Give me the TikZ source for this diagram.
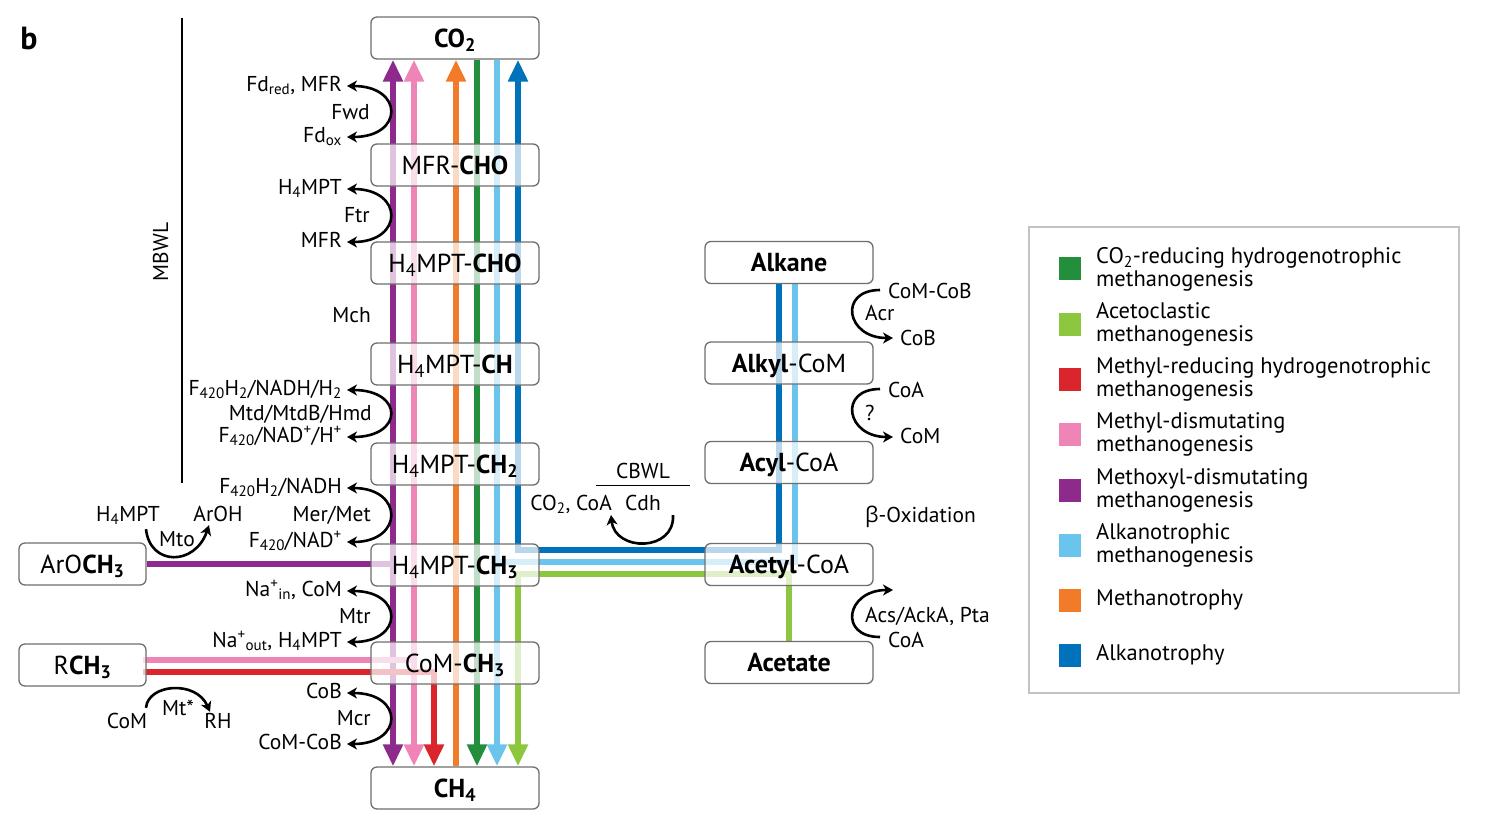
\documentclass[tikz,border=0pt]{standalone}
\usepackage{fontspec}
\setmainfont{PT Sans}
\newfontfamily\grk{Open Sans}
\usetikzlibrary{arrows.meta,calc}
\pgfdeclarelayer{bg}
\pgfsetlayers{bg,main}
\definecolor{cpurple}{RGB}{143,42,141}
\definecolor{cpink}{RGB}{239,133,183}
\definecolor{cred}{RGB}{218,37,45}
\definecolor{corange}{RGB}{242,123,41}
\definecolor{cgreen}{RGB}{35,142,60}
\definecolor{clgreen}{RGB}{141,198,63}
\definecolor{clblue}{RGB}{107,196,236}
\definecolor{cblue}{RGB}{0,114,187}
\definecolor{boxgray}{RGB}{110,110,110}
\definecolor{leggray}{RGB}{195,195,195}
\newcommand\bxfont{\fontsize{26}{30}\selectfont}
\newcommand\lbfont{\fontsize{21.5}{25}\selectfont}
\newcommand\lgfont{\fontsize{22.5}{23}\selectfont}
\tikzset{tp/.tip={Stealth[length=10pt,width=11pt,inset=3pt]}}
\begin{document}
\begin{tikzpicture}[x=1pt,y=-1pt,
  bx/.style={draw=boxgray, line width=1.3pt, rounded corners=6pt, fill=white,
    fill opacity=0.72, text opacity=1, minimum width=168pt, minimum height=42pt,
    inner sep=0pt, font=\bxfont, text height=21pt, text depth=3pt},
  sbx/.style={bx, minimum width=127pt},
  lbl/.style={font=\lbfont, inner sep=0pt, text height=14pt, text depth=4pt},
  pl/.style={line width=6.5pt, line join=miter},
  ar/.style={-{Triangle[width=19pt,length=22pt]}},
  carrow/.style={line width=2.6pt, black},
  sq/.style={minimum width=22pt, minimum height=23pt, inner sep=0pt},
  lg/.style={font=\lgfont, inner sep=0pt, align=left, anchor=west}
]
\useasboundingbox (0,0) rectangle (1487,822);

% panel label
\node[font=\fontsize{32}{34}\selectfont\bfseries, inner sep=0pt] (blab) at (29,38) {b};

% central column boxes
\node[bx] (co2)    at (455,38)  {\textbf{CO\textsubscript{2}}};
\node[bx] (mfr)    at (455,165) {MFR-\textbf{CHO}};
\node[bx] (cho)    at (455,263) {H\textsubscript{4}MPT-\textbf{CHO}};
\node[bx] (ch)     at (455,364) {H\textsubscript{4}MPT-\textbf{CH}};
\node[bx] (ch2)    at (455,464) {H\textsubscript{4}MPT-\textbf{CH\textsubscript{2}}};
\node[bx] (ch3)    at (455,565) {H\textsubscript{4}MPT-\textbf{CH\textsubscript{3}}};
\node[bx] (comch3) at (455,663) {CoM-\textbf{CH\textsubscript{3}}};
\node[bx] (ch4)    at (455,788) {\textbf{CH\textsubscript{4}}};
\node[sbx] (aro)   at (82.5,564) {ArO\textbf{CH\textsubscript{3}}};
\node[sbx] (rch3)  at (82.5,665) {R\textbf{CH\textsubscript{3}}};
% right column boxes
\node[bx] (alkane)  at (789,262.5) {\textbf{Alkane}};
\node[bx] (alkyl)   at (789,363)   {\textbf{Alkyl}-CoM};
\node[bx] (acyl)    at (789,462.5) {\textbf{Acyl}-CoA};
\node[bx] (acetyl)  at (789,564.5) {\textbf{Acetyl}-CoA};
\node[bx] (acetate) at (789,662.5) {\textbf{Acetate}};

% MBWL
\node[lbl, rotate=90] (mbwl) at (163,252) {MBWL};
\coordinate (mbt) at (182,18);
\coordinate (mbb) at (182,483);
\draw[line width=1.4pt] (mbt) -- (mbb);

% left labels
\node[lbl, anchor=base east] (fdred) at (342,91) {Fd\textsubscript{red}, MFR};
\node[lbl, anchor=base east] (fwd) at (370,119) {Fwd};
\node[lbl, anchor=base east] (fdox) at (342,142) {Fd\textsubscript{ox}};
\node[lbl, anchor=base east] (h4a) at (342,194) {H\textsubscript{4}MPT};
\node[lbl, anchor=base east] (ftr) at (370,222) {Ftr};
\node[lbl, anchor=base east] (mfra) at (342,247) {MFR};
\node[lbl, anchor=base east] (mch) at (371,322) {Mch};
\node[lbl, anchor=base east] (fa) at (342,395) {F\textsubscript{420}H\textsubscript{2}/NADH/H\textsubscript{2}};
\node[lbl, anchor=base east] (mtd) at (372,420) {Mtd/MtdB/Hmd};
\node[lbl, anchor=base east] (fb) at (342,442) {F\textsubscript{420}/NAD\textsuperscript{+}/H\textsuperscript{+}};
\node[lbl, anchor=base east] (fc) at (342,493) {F\textsubscript{420}H\textsubscript{2}/NADH};
\node[lbl, anchor=base east] (mer) at (371,521) {Mer/Met};
\node[lbl, anchor=base east] (fd) at (342,547) {F\textsubscript{420}/NAD\textsuperscript{+}};
\node[lbl, anchor=base east] (nain) at (342,596) {Na\textsuperscript{+}\textsubscript{in}, CoM};
\node[lbl, anchor=base east] (mtr) at (371,623) {Mtr};
\node[lbl, anchor=base east] (naout) at (342,647) {Na\textsuperscript{+}\textsubscript{out}, H\textsubscript{4}MPT};
\node[lbl, anchor=base east] (cob) at (342,698) {CoB};
\node[lbl, anchor=base east] (mcr) at (371,725) {Mcr};
\node[lbl, anchor=base east] (comcob) at (342,749) {CoM-CoB};

% Mto / Mt*
\node[lbl, anchor=base] (h4m) at (128,521) {H\textsubscript{4}MPT};
\node[lbl, anchor=base] (aroh) at (218,521) {ArOH};
\node[lbl, anchor=base] (mto) at (177,546) {Mto};
\node[lbl, anchor=base] (com) at (127,728) {CoM};
\node[lbl, anchor=base] (mtstar) at (178,715) {Mt*};
\node[lbl, anchor=base] (rh) at (218,728) {RH};

% CBWL
\node[lbl, anchor=base] (cbwl) at (643,478) {CBWL};
\draw[line width=1.4pt] ([shift={(-47,3)}]cbwl.south) -- ([shift={(47,3)}]cbwl.south);
\node[lbl, anchor=base] (cdh) at (643,510) {Cdh};
\node[lbl, anchor=base east] (coco) at (612,510) {CO\textsubscript{2}, CoA};

% right labels
\node[lbl, anchor=base west] (comcobr) at (888,298) {CoM-CoB};
\node[lbl, anchor=base west] (acr) at (865,320) {Acr};
\node[lbl, anchor=base west] (cobr) at (900,345) {CoB};
\node[lbl, anchor=base west] (coaa) at (888,397) {CoA};
\node[lbl, anchor=base west] (qm) at (865,420) {?};
\node[lbl, anchor=base west] (comr) at (900,443) {CoM};
\node[lbl, anchor=base west] (boxi) at (865,522) {{\grk β}-Oxidation};
\node[lbl, anchor=base west] (acs) at (865,622) {Acs/AckA, Pta};
\node[lbl, anchor=base west] (coab) at (888,647) {CoA};
\coordinate (acsend) at (893,590);

% curved enzyme arrows
\draw[carrow, {tp}-{tp}] ([xshift=5pt]fdred.east) .. controls +(57,0) and +(57,0) .. ([xshift=5pt]fdox.east);
\draw[carrow, {tp}-{tp}] ([xshift=5pt]h4a.east) .. controls +(57,0) and +(57,0) .. ([xshift=5pt]mfra.east);
\draw[carrow, {tp}-{tp}] ([xshift=5pt]fa.east) .. controls +(57,0) and +(57,0) .. ([xshift=5pt]fb.east);
\draw[carrow, {tp}-{tp}] ([xshift=5pt]fc.east) .. controls +(57,0) and +(57,0) .. ([xshift=5pt]fd.east);
\draw[carrow, {tp}-{tp}] ([xshift=5pt]nain.east) .. controls +(57,0) and +(57,0) .. ([xshift=5pt]naout.east);
\draw[carrow, {tp}-{tp}] ([xshift=5pt]cob.east) .. controls +(57,0) and +(57,0) .. ([xshift=5pt]comcob.east);
\draw[carrow, -{tp}] ([shift={(18,4)}]h4m.south) .. controls +(4,37) and +(-14,41) .. ([shift={(-9,0)}]aroh.south);
\draw[carrow, -{tp}] ([shift={(19,-6)}]com.north) .. controls +(2,-24) and +(-14,-32) .. ([shift={(-8,-2)}]rh.north);
\draw[carrow, -{tp}] ([shift={(12,10)}]cdh.east) .. controls +(2,37) and +(4,37) .. ([shift={(-1,10)}]coco.east);
\draw[carrow, -{tp}] ([shift={(-8,-3)}]comcobr.west) .. controls +(-42,0) and +(-47,0) .. ([shift={(-7,-2)}]cobr.west);
\draw[carrow, -{tp}] ([shift={(-8,-3)}]coaa.west) .. controls +(-42,0) and +(-47,0) .. ([shift={(-7,-1)}]comr.west);
\draw[carrow, -{tp}] ([shift={(-8,-5)}]coab.west) .. controls +(-42,0) and +(-47,0) .. (acsend);

% pathway lines
\coordinate (jP) at (393,564);
\coordinate (jKa) at (143,660);
\coordinate (jK) at (414,660);
\coordinate (jRa) at (143,672);
\coordinate (jR) at (434,672);
\coordinate (jB1) at (779,550);
\coordinate (jB2) at (518,550);
\coordinate (jL1) at (795,562);
\coordinate (jL2) at (497,562);
\coordinate (jG1) at (789,574);
\coordinate (jG2) at (518,574);
\begin{pgfonlayer}{bg}
  % purple
  \draw[pl, cpurple] (aro.east) -- (jP);
  \draw[pl, cpurple, ar] (jP) -- ([xshift=-62pt]co2.south);
  \draw[pl, cpurple, ar] (jP) -- ([xshift=-62pt]ch4.north);
  % pink
  \draw[pl, cpink] (jKa) -- (jK);
  \draw[pl, cpink, ar] (jK) -- ([xshift=-41pt]co2.south);
  \draw[pl, cpink, ar] (jK) -- ([xshift=-41pt]ch4.north);
  % red
  \draw[pl, cred, ar] (jRa) -- (jR) -- ([xshift=-21pt]ch4.north);
  % orange
  \draw[pl, corange, ar] ([xshift=1pt]ch4.north) -- ([xshift=1pt]co2.south);
  % dark green
  \draw[pl, cgreen, ar] ([xshift=22pt]co2.south) -- ([xshift=22pt]ch4.north);
  % light blue
  \draw[pl, clblue, ar] ([xshift=42pt]co2.south) -- ([xshift=42pt]ch4.north);
  \draw[pl, clblue] ([xshift=6pt]alkane.south) -- (jL1) -- (jL2);
  % dark blue
  \draw[pl, cblue, ar] ([xshift=-10pt]alkane.south) -- (jB1) -- (jB2) -- ([xshift=63pt]co2.south);
  % light green
  \draw[pl, clgreen, ar] (acetate.north) -- (jG1) -- (jG2) -- ([xshift=63pt]ch4.north);
\end{pgfonlayer}

% legend
\node[draw=leggray, line width=1.5pt, minimum width=430pt, minimum height=466pt, inner sep=0pt] (legend) at (1244,460) {};
\node[sq, fill=cgreen]  (s1) at (1070,268) {};
\node[sq, fill=clgreen] (s2) at (1070,324) {};
\node[sq, fill=cred]    (s3) at (1070,379) {};
\node[sq, fill=cpink]   (s4) at (1070,434) {};
\node[sq, fill=cpurple] (s5) at (1070,490) {};
\node[sq, fill=clblue]  (s6) at (1070,545) {};
\node[sq, fill=corange] (s7) at (1070,600) {};
\node[sq, fill=cblue]   (s8) at (1070,655) {};
\node[lg] (t1) at (1096,269) {CO\textsubscript{2}-reducing hydrogenotrophic\\methanogenesis};
\node[lg] (t2) at (1096,324) {Acetoclastic\\methanogenesis};
\node[lg] (t3) at (1096,379) {Methyl-reducing hydrogenotrophic\\methanogenesis};
\node[lg] (t4) at (1096,434) {Methyl-dismutating\\methanogenesis};
\node[lg] (t5) at (1096,490) {Methoxyl-dismutating\\methanogenesis};
\node[lg] (t6) at (1096,545) {Alkanotrophic\\methanogenesis};
\node[lg] (t7) at (1096,600) {Methanotrophy};
\node[lg] (t8) at (1096,655) {Alkanotrophy};
\end{tikzpicture}
\end{document}
